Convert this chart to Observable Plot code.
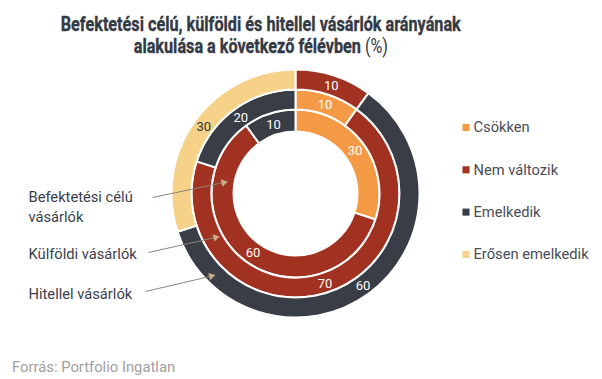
<!DOCTYPE html>
<html><head><meta charset="utf-8">
<script src="https://cdn.jsdelivr.net/npm/d3@7"></script>
<script src="https://cdn.jsdelivr.net/npm/@observablehq/plot@0.6"></script>
<style>
body{margin:0;background:#fff;font-family:Roboto,sans-serif;}
#wrap{position:relative;width:602px;height:379px;overflow:hidden;}
#title{position:absolute;left:0;top:13px;width:522px;text-align:center;font-weight:700;font-size:20px;line-height:22px;color:#343a45;-webkit-text-stroke:0.35px #343a45;}
#title .ln{display:block;white-space:nowrap;}
#title .in{display:inline-block;transform-origin:center;}
#title .reg{font-weight:400;-webkit-text-stroke:0;}
#chart{position:absolute;left:0;top:64px;}
#src{position:absolute;left:12px;top:358px;font-size:14.8px;color:#a0a0a0;}
</style></head><body>
<div id="wrap">
<div id="title"><div class="ln"><span class="in">Befektetési célú, külföldi és hitellel vásárlók arányának</span></div><div class="ln"><span class="in">alakulása a következő félévben <span class="reg">(%)</span></span></div></div>
<div id="chart"></div>
<div id="src">Forrás: Portfolio Ingatlan</div>
</div>
<script>
// ---- data ----
const categories = ["Csökken", "Nem változik", "Emelkedik", "Erősen emelkedik"];
const colors = ["#F59A44", "#A13121", "#383D46", "#F5D287"];
const series = ["Befektetési célú vásárlók", "Külföldi vásárlók", "Hitellel vásárlók"];
const befektetesi = [30, 60, 10, 0];
const kulfoldi = [10, 70, 20, 0];
const hitellel = [0, 10, 60, 30];
const seriesValues = [befektetesi, kulfoldi, hitellel];
const seriesLabels = ["Befektetési célú\nvásárlók", "Külföldi vásárlók", "Hitellel vásárlók"];

// ---- layout ----
const W = 602, H = 285;
const CX = 295.5, CY = 129.5;
const rings = [[62, 84], [84, 104], [104, 124]];
const tipAngles = [280, 241, 225];
const tipRadii = [70, 88, 115];
const labelPos = [[28, 141], [28, 188], [28, 228]];
const arrowStart = [[152, 133], [148, 188], [145, 227]];

// ---- build arcs ----
const arcs = [];
seriesValues.forEach((vals, i) => {
  const rows = categories.map((c, j) => ({category: c, value: vals[j]}));
  const pie = d3.pie().sort(null).value(d => d.value)(rows);
  pie.forEach(p => {
    if (p.data.value <= 0) return;
    const mid = (p.startAngle + p.endAngle) / 2;
    const rm = (rings[i][0] + rings[i][1]) / 2;
    arcs.push({
      series: series[i], category: p.data.category, value: p.data.value,
      startAngle: p.startAngle, endAngle: p.endAngle,
      r0: rings[i][0], r1: rings[i][1],
      lx: CX + rm * Math.sin(mid), ly: CY - rm * Math.cos(mid)
    });
  });
});

function arcsMark(index, scales) {
  const sx = scales.x, sy = scales.y;
  const g = d3.create("svg:g");
  g.selectAll("path").data(arcs).join("path")
    .attr("transform", `translate(${sx(CX)},${sy(CY)})`)
    .attr("d", d => d3.arc().innerRadius(d.r0).outerRadius(d.r1)(d))
    .attr("fill", d => scales.color(d.category))
    .attr("stroke", "#fff").attr("stroke-width", 2);
  return g.node();
}

const ann = series.map((s, i) => {
  const a = tipAngles[i] * Math.PI / 180;
  const tx = CX + tipRadii[i] * Math.sin(a), ty = CY - tipRadii[i] * Math.cos(a);
  const [x1, y1] = arrowStart[i];
  const dx = tx - x1, dy = ty - y1, len = Math.hypot(dx, dy);
  return {
    series: s, label: seriesLabels[i], lx: labelPos[i][0], ly: labelPos[i][1],
    x1, y1, x2: tx, y2: ty,
    hx: tx - dx / len * 3.5, hy: ty - dy / len * 3.5,
    rot: Math.atan2(dx, -dy) * 180 / Math.PI
  };
});

const legendRows = categories.map((c, j) => ({category: c, y: 63 + j * 42.3}));

const plot = Plot.plot({
  width: W, height: H, margin: 0,
  x: {domain: [0, W], range: [0, W], axis: null},
  y: {domain: [0, H], range: [0, H], axis: null},
  color: {domain: categories, range: colors},
  style: {fontFamily: "Roboto, sans-serif", background: "#fff"},
  marks: [
    arcsMark,
    Plot.text(arcs, {x: "lx", y: "ly", text: d => String(d.value), fontSize: 13,
      fill: d => d.category === "Erősen emelkedik" ? "#333" : "#fff"}),
    Plot.link(ann, {x1: "x1", y1: "y1", x2: "hx", y2: "hy", stroke: "#8f847a", strokeWidth: 1}),
    Plot.dot(ann, {x: "hx", y: "hy", symbol: "triangle2", r: 3.6, rotate: "rot", fill: "#c9a987", stroke: null}),
    Plot.text(ann, {x: "lx", y: "ly", text: "label", textAnchor: "start", lineAnchor: "middle",
      lineHeight: 1.38, fontSize: 14.7, fill: "#3b404b"}),
    Plot.dot(legendRows, {x: 465.5, y: "y", symbol: "square", r: 4, fill: "category"}),
    Plot.text(legendRows, {x: 473, y: "y", text: "category", textAnchor: "start", fontSize: 14.7, fill: "#4a4d55"})
  ]
});
document.getElementById("chart").appendChild(plot);

// condense title to the reference's width
const spans = document.querySelectorAll("#title .in");
const w0 = spans[0].getBoundingClientRect().width;
const k = 400 / w0;
spans.forEach(s => s.style.transform = `scaleX(${k})`);
</script>
</body></html>
